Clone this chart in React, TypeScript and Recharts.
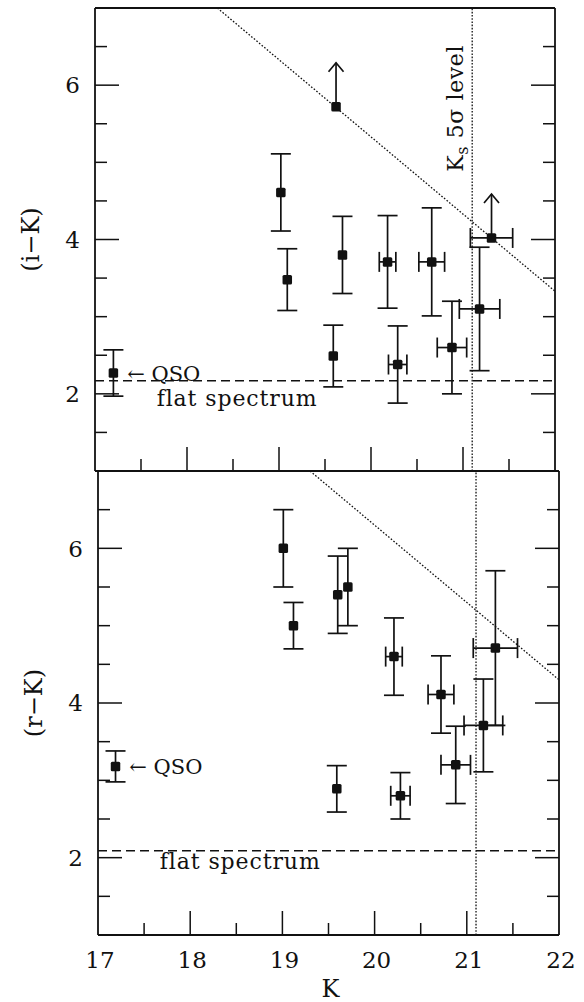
import React from 'react';
import { ScatterChart, Scatter, XAxis, YAxis, ErrorBar, ReferenceLine } from 'recharts';

// ---------- axis ticks ----------
const xTicks = [17, 17.5, 18, 18.5, 19, 19.5, 20, 20.5, 21, 21.5, 22];
const xMajor = [18, 19, 20, 21];
const xLabels = [17, 18, 19, 20, 21, 22];
const yTicks = [1, 1.5, 2, 2.5, 3, 3.5, 4, 4.5, 5, 5.5, 6, 6.5, 7];
const yMajor = [2, 4, 6];
const xDomain: [number, number] = [17, 22];
const yDomain: [number, number] = [1, 7];

// ---------- (i-K) panel ----------
const ikPoints = [
  { k: 17.2, v: 2.27, ey: 0.3 },
  { k: 19.02, v: 4.61, ey: 0.5 },
  { k: 19.09, v: 3.48, ey: 0.4 },
  { k: 19.69, v: 3.8, ey: 0.5 },
  { k: 19.59, v: 2.49, ey: 0.4 },
];
const ikPointsX = [
  { k: 20.18, v: 3.71, ey: 0.6, ex: 0.09 },
  { k: 20.66, v: 3.71, ey: 0.7, ex: 0.14 },
  { k: 20.29, v: 2.38, ey: 0.5, ex: 0.1 },
  { k: 20.88, v: 2.6, ey: 0.6, ex: 0.16 },
  { k: 21.18, v: 3.1, ey: 0.8, ex: 0.22 },
];
const ikLimits = [
  { k: 19.62, v: 5.72, up: [0, 0.57] },
  { k: 21.31, v: 4.02, up: [0, 0.57], ex: 0.23 },
];
const ikTips = [
  { k: 19.62, v: 6.29 },
  { k: 21.31, v: 4.59 },
];
const ikFlat = 2.17;
const ikLimitLine = [{ x: 18.33, y: 7 }, { x: 22, y: 3.33 }];
const ikTexts = [
  { k: 17.35, v: 2.27, text: '\u2190 QSO', kind: 'mid' },
  { k: 17.67, v: 1.84, text: 'flat spectrum', kind: 'base' },
  { k: 21.0, v: 5.7, text: 'K', sub: 's', rest: ' 5\u03c3 level', kind: 'rot' },
];

// ---------- (r-K) panel ----------
const rkPoints = [
  { k: 17.19, v: 3.18, ey: 0.2 },
  { k: 19.01, v: 6.0, ey: 0.5 },
  { k: 19.12, v: 5.0, ey: 0.3 },
  { k: 19.6, v: 5.4, ey: 0.5 },
  { k: 19.71, v: 5.5, ey: 0.5 },
  { k: 19.59, v: 2.89, ey: 0.3 },
];
const rkPointsX = [
  { k: 20.21, v: 4.6, ey: 0.5, ex: 0.09 },
  { k: 20.72, v: 4.11, ey: 0.5, ex: 0.14 },
  { k: 21.31, v: 4.71, ey: 1.0, ex: 0.24 },
  { k: 20.28, v: 2.8, ey: 0.3, ex: 0.105 },
  { k: 20.88, v: 3.2, ey: 0.5, ex: 0.16 },
  { k: 21.18, v: 3.71, ey: 0.6, ex: 0.21 },
];
const rkFlat = 2.09;
const rkLimitLine = [{ x: 19.3, y: 7 }, { x: 22, y: 4.3 }];
const rkTexts = [
  { k: 17.34, v: 3.18, text: '\u2190 QSO', kind: 'mid' },
  { k: 17.67, v: 1.85, text: 'flat spectrum', kind: 'base' },
];

const ksLevel = 21.1;

// ---------- styles ----------
const FONT = '"DejaVu Serif", "Liberation Serif", serif';
const INK = '#111';
const MAJOR = 24;
const MINOR = 12;

const makeXTick = (dir: number, labels: boolean) => (props: any) => {
  const { x, y, payload } = props;
  const v = payload.value;
  const isEnd = v === xDomain[0] || v === xDomain[1];
  const len = xMajor.includes(v) ? MAJOR : MINOR;
  return (
    <g>
      {!isEnd && <line x1={x} x2={x} y1={y} y2={y + dir * len} stroke={INK} strokeWidth={1.5} />}
      {labels && xLabels.includes(v) && (
        <text x={x + 2} y={y + 33} textAnchor="middle" fontFamily={FONT} fontSize={23} fill={INK}>
          {v}
        </text>
      )}
    </g>
  );
};

const makeYTick = (dir: number, labels: boolean) => (props: any) => {
  const { x, y, payload } = props;
  const v = payload.value;
  const isEnd = v === yDomain[0] || v === yDomain[1];
  const len = yMajor.includes(v) ? MAJOR : MINOR;
  return (
    <g>
      {!isEnd && <line x1={x} x2={x + dir * len} y1={y} y2={y} stroke={INK} strokeWidth={1.5} />}
      {labels && yMajor.includes(v) && (
        <text x={x - 15} y={y} dy="0.36em" textAnchor="end" fontFamily={FONT} fontSize={23} fill={INK}>
          {v}
        </text>
      )}
    </g>
  );
};

const yTitle = (title: string) => (p: any) => {
  const vb = p.viewBox || {};
  const cx = vb.x + vb.width - 64;
  const cy = vb.y + vb.height / 2;
  return (
    <text
      x={cx}
      y={cy}
      transform={`rotate(-90 ${cx} ${cy})`}
      textAnchor="middle"
      dominantBaseline="central"
      fontFamily={FONT}
      fontSize={24}
      fill={INK}
    >
      {title}
    </text>
  );
};

const xTitle = (title: string) => (p: any) => {
  const vb = p.viewBox || {};
  return (
    <text x={vb.x + vb.width / 2 + 2} y={vb.y + 62} textAnchor="middle" fontFamily={FONT} fontSize={24} fill={INK}>
      {title}
    </text>
  );
};

const Square = (props: any) => {
  const { cx, cy } = props;
  if (cx == null || cy == null) return <g />;
  return <rect x={cx - 4.75} y={cy - 4.75} width={9.5} height={9.5} rx={1.5} fill={INK} />;
};

const Chevron = (props: any) => {
  const { cx, cy } = props;
  if (cx == null || cy == null) return <g />;
  return (
    <path
      d={`M${cx - 7.5},${cy + 9} L${cx},${cy} L${cx + 7.5},${cy + 9}`}
      fill="none"
      stroke={INK}
      strokeWidth={1.7}
    />
  );
};

const TextMark = (props: any) => {
  const { cx, cy, payload } = props;
  if (cx == null || cy == null) return <g />;
  if (payload.kind === 'rot') {
    return (
      <text
        x={cx}
        y={cy}
        transform={`rotate(-90 ${cx} ${cy})`}
        textAnchor="middle"
        fontFamily={FONT}
        fontSize={22}
        letterSpacing={0.6}
        fill={INK}
      >
        {payload.text}
        <tspan fontSize={16} dy={5}>
          {payload.sub}
        </tspan>
        <tspan dy={-5}>{payload.rest}</tspan>
      </text>
    );
  }
  const isMid = payload.kind === 'mid';
  return (
    <text
      x={cx}
      y={cy}
      dy={isMid ? '0.36em' : 0}
      textAnchor="start"
      fontFamily={FONT}
      fontSize={isMid ? 21 : 22}
      letterSpacing={isMid ? 0 : 0.9}
      fill={INK}
    >
      {payload.text}
    </text>
  );
};

type PanelProps = {
  width: number;
  height: number;
  margin: { top: number; right: number; bottom: number; left: number };
  title: string;
  showX: boolean;
  points: any[];
  pointsX: any[];
  limits?: any[];
  tips?: any[];
  flat: number;
  limitLine: { x: number; y: number }[];
  texts: any[];
};

const axisLine = { stroke: INK, strokeWidth: 1.8 };

function Panel(p: PanelProps) {
  return (
    <ScatterChart width={p.width} height={p.height} margin={p.margin}>
      <XAxis
        xAxisId="b"
        type="number"
        dataKey="k"
        orientation="bottom"
        domain={xDomain}
        ticks={xTicks}
        interval={0}
        allowDataOverflow
        height={1}
        tickSize={0}
        tickMargin={0}
        tickLine={false}
        axisLine={axisLine}
        tick={makeXTick(-1, p.showX)}
        label={p.showX ? xTitle('K') : undefined}
      />
      <XAxis
        xAxisId="t"
        type="number"
        orientation="top"
        domain={xDomain}
        ticks={xTicks}
        interval={0}
        allowDataOverflow
        height={1}
        tickSize={0}
        tickMargin={0}
        tickLine={false}
        axisLine={axisLine}
        tick={makeXTick(1, false)}
      />
      <YAxis
        yAxisId="l"
        type="number"
        dataKey="v"
        orientation="left"
        domain={yDomain}
        ticks={yTicks}
        interval={0}
        allowDataOverflow
        width={1}
        tickSize={0}
        tickMargin={0}
        tickLine={false}
        axisLine={axisLine}
        tick={makeYTick(1, true)}
        label={yTitle(p.title)}
      />
      <YAxis
        yAxisId="r"
        type="number"
        orientation="right"
        domain={yDomain}
        ticks={yTicks}
        interval={0}
        allowDataOverflow
        width={1}
        tickSize={0}
        tickMargin={0}
        tickLine={false}
        axisLine={axisLine}
        tick={makeYTick(-1, false)}
      />
      <ReferenceLine
        xAxisId="b"
        yAxisId="l"
        y={p.flat}
        stroke={INK}
        strokeWidth={1.5}
        strokeDasharray="9 5"
        ifOverflow="visible"
      />
      <ReferenceLine
        xAxisId="b"
        yAxisId="l"
        x={ksLevel}
        stroke={INK}
        strokeWidth={1.3}
        strokeDasharray="1.6 1.6"
        ifOverflow="visible"
      />
      <ReferenceLine
        xAxisId="b"
        yAxisId="l"
        segment={p.limitLine}
        stroke={INK}
        strokeWidth={1.3}
        strokeDasharray="1.6 1.8"
        ifOverflow="visible"
      />
      <Scatter xAxisId="b" yAxisId="l" data={p.points} shape={Square} isAnimationActive={false}>
        <ErrorBar dataKey="ey" direction="y" width={10} stroke={INK} strokeWidth={1.7} isAnimationActive={false} />
      </Scatter>
      <Scatter xAxisId="b" yAxisId="l" data={p.pointsX} shape={Square} isAnimationActive={false}>
        <ErrorBar dataKey="ey" direction="y" width={10} stroke={INK} strokeWidth={1.7} isAnimationActive={false} />
        <ErrorBar dataKey="ex" direction="x" width={10} stroke={INK} strokeWidth={1.7} isAnimationActive={false} />
      </Scatter>
      {p.limits && (
        <Scatter xAxisId="b" yAxisId="l" data={p.limits} shape={Square} isAnimationActive={false}>
          <ErrorBar dataKey="up" direction="y" width={0} stroke={INK} strokeWidth={1.7} isAnimationActive={false} />
          <ErrorBar dataKey="ex" direction="x" width={10} stroke={INK} strokeWidth={1.7} isAnimationActive={false} />
        </Scatter>
      )}
      {p.tips && <Scatter xAxisId="b" yAxisId="l" data={p.tips} shape={Chevron} isAnimationActive={false} />}
      <Scatter xAxisId="b" yAxisId="l" data={p.texts} shape={TextMark} isAnimationActive={false} />
    </ScatterChart>
  );
}

export default function App() {
  return (
    <div style={{ position: 'absolute', left: 0, top: 0, width: 584, height: 1002, background: '#fff', overflow: 'hidden' }}>
      <div style={{ position: 'absolute', left: 0, top: 0 }}>
        <Panel
          width={584}
          height={480}
          margin={{ top: 7, right: 28, bottom: 8, left: 94 }}
          title={'(i\u2212K)'}
          showX={false}
          points={ikPoints}
          pointsX={ikPointsX}
          limits={ikLimits}
          tips={ikTips}
          flat={ikFlat}
          limitLine={ikLimitLine}
          texts={ikTexts}
        />
      </div>
      <div style={{ position: 'absolute', left: 0, top: 463 }}>
        <Panel
          width={584}
          height={539}
          margin={{ top: 7, right: 24, bottom: 66, left: 97 }}
          title={'(r\u2212K)'}
          showX={true}
          points={rkPoints}
          pointsX={rkPointsX}
          flat={rkFlat}
          limitLine={rkLimitLine}
          texts={rkTexts}
        />
      </div>
    </div>
  );
}
